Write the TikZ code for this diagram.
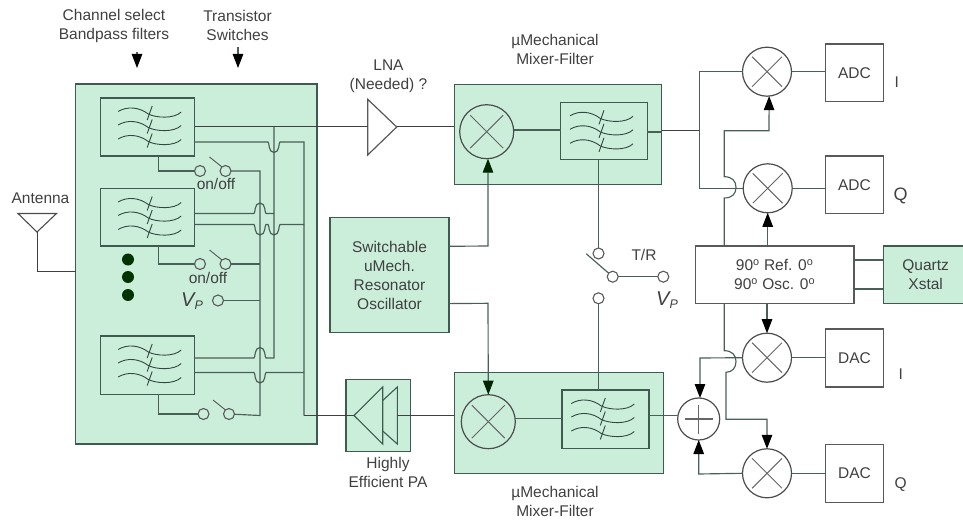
\documentclass[tikz,border=0pt]{standalone}
\usepackage{fontspec}
\setmainfont{Liberation Sans}
\usetikzlibrary{arrows.meta,calc}
\definecolor{pale}{HTML}{CBEEDB}
\definecolor{edge}{HTML}{3F5A4E}
\definecolor{wire}{HTML}{4A5F55}
\definecolor{ink}{HTML}{404040}
\tikzset{
  x=1pt,y=-1pt,
  wireline/.style={draw=wire,line width=1.15pt},
  thinwire/.style={draw=black!75,line width=1pt},
  tipped/.style={wireline,-{Triangle[length=14pt,width=10.5pt,fill=#1,color=#1]}},
  tipped/.default=black,
  greenbox/.style={draw=edge,line width=1.3pt,fill=pale,inner sep=0pt,outer sep=0pt,rectangle},
  whitebox/.style={draw=black!65,line width=1.2pt,fill=white,inner sep=0pt,outer sep=0pt,rectangle},
  mixcircle/.style={draw=black!70,line width=1.2pt,circle,inner sep=0pt,outer sep=0pt},
  contact/.style={draw=black!65,line width=1.1pt,circle,inner sep=0pt,outer sep=0pt,minimum size=11pt},
  lbl/.style={inner sep=0pt,text=ink,align=center,font=\fontsize{15.5}{19}\selectfont},
  dotmark/.style={circle,fill=black!80!green,inner sep=0pt,minimum size=12pt},
  glyph/.style={draw=edge!80!black,line width=0.9pt}
}
% name, x1, y1, x2, y2, style, text
\newcommand\boxat[7]{\node[#6,minimum width={#4-#2},minimum height={#5-#3}] (#1) at ({(#2+#4)/2},{(#3+#5)/2}) {#7};}
% filter glyph: box name, x offset
\newcommand\filterglyph[2]{%
  \begin{scope}[shift={(#1.north west)},xshift=#2]
    \foreach \dy in {0,13.5,27.5}{
      \draw[glyph] (0,13.5+\dy) .. controls (9,8+\dy) and (21,9+\dy) .. (30,16+\dy)
                   .. controls (38,20+\dy) and (56,21+\dy) .. (63,14+\dy);
      \draw[glyph] (29,22+\dy) -- (34,8+\dy);
    }
  \end{scope}}
% mixer: name, x, y, radius
\newcommand\mixerat[4]{%
  \node[mixcircle,minimum size={2*#4}] (#1) at (#2,#3) {};
  \draw[draw=black!60,line width=1pt] ([shift={(-0.61*#4,-0.61*#4)}]#1.center) -- ([shift={(0.61*#4,0.61*#4)}]#1.center);
  \draw[draw=black!60,line width=1pt] ([shift={(-0.61*#4,0.61*#4)}]#1.center) -- ([shift={(0.61*#4,-0.61*#4)}]#1.center);}
\newcommand\vp{{\fontsize{20}{20}\selectfont\itshape V}\raisebox{-3pt}{\fontsize{12.5}{12}\selectfont\itshape P}}
\begin{document}
\begin{tikzpicture}
\useasboundingbox (0,0) rectangle (963,521);
% --- containers
\boxat{bank}{75.5}{84}{317}{444}{greenbox}{}
\boxat{f1}{100.5}{98}{194.5}{156}{greenbox}{}
\boxat{f2}{100.5}{188.5}{194.5}{246}{greenbox}{}
\boxat{f3}{100.5}{336}{194.5}{394.5}{greenbox}{}
\boxat{mixtop}{454.3}{84.3}{661.7}{184.3}{greenbox}{}
\boxat{mixbot}{454.3}{372.3}{663.3}{473.3}{greenbox}{}
\boxat{ftop}{560.7}{102.3}{647.3}{159.3}{greenbox}{}
\boxat{fbot}{562}{390}{649}{448.3}{greenbox}{}
\boxat{osc}{330}{217.7}{449}{332.3}{greenbox,lbl}{Switchable\\uMech.\\Resonator\\Oscillator}
\boxat{pa}{346}{379.3}{410.7}{451.7}{greenbox}{}
\boxat{adc1}{825.3}{44}{883.7}{101.7}{whitebox,lbl}{ADC}
\boxat{adc2}{825.3}{156}{883.7}{213.7}{whitebox,lbl}{ADC}
\boxat{dac1}{825.3}{329}{883.7}{387}{whitebox,lbl}{DAC}
\boxat{dac2}{825.3}{444.3}{883.7}{502.3}{whitebox,lbl}{DAC}
\boxat{ref}{695.3}{246}{854}{303.3}{whitebox,lbl}{90\textsuperscript{o} Ref. 0\textsuperscript{o}\\90\textsuperscript{o} Osc. 0\textsuperscript{o}}
\boxat{xtal}{883.3}{246}{968}{303.3}{greenbox,lbl}{Quartz\\Xstal}
\filterglyph{f1}{17.7}
\filterglyph{f2}{17.7}
\filterglyph{f3}{17.7}
\filterglyph{ftop}{9.3}
\filterglyph{fbot}{9.3}
\mixerat{mxa}{486.7}{131.7}{27}
\mixerat{mxb}{488.3}{421.7}{27}
\mixerat{m1}{767}{71.7}{24.5}
\mixerat{m2}{767.7}{188.3}{24.5}
\mixerat{m3}{767}{357.7}{24.5}
\mixerat{m4}{767}{473.3}{24.5}
\node[mixcircle,minimum size=42pt] (sum) at (698.7,419) {};
\draw[draw=black!60,line width=1.2pt] ([shift={(-14,0)}]sum.center) -- ([shift={(14,0)}]sum.center);
\draw[draw=black!60,line width=1.2pt] ([shift={(0,-14.5)}]sum.center) -- ([shift={(0,14.5)}]sum.center);
% --- switch contacts
\node[contact] (s1a) at (200,171) {};
\node[contact] (s1b) at (225.5,171) {};
\node[contact] (s2a) at (200,264) {};
\node[contact] (s2b) at (225.5,264) {};
\node[contact] (s3a) at (203.5,414) {};
\node[contact] (s3b) at (229,414) {};
\node[contact] (vpc) at (218,300.5) {};
\node[contact] (tr1) at (598.5,253.5) {};
\node[contact] (tr2) at (612.7,276.7) {};
\node[contact] (tr3) at (663.3,276.7) {};
\node[contact] (tr4) at (598.5,298.3) {};
\foreach \n in {s1b,s2b,s3b}{
  \draw[draw=black!65,line width=0.9pt] ([shift={(-16,-14)}]\n.center) -- ([shift={(-3.5,-4)}]\n.center);
}
\draw[wireline] ([shift={(-26.5,-23)}]tr2.center) -- (tr2);
% --- dots
\node[dotmark] (d1) at (128,259.5) {};
\node[dotmark] (d2) at (128,277) {};
\node[dotmark] (d3) at (128,295) {};
% --- antenna
\coordinate (anta) at (18,213.5);
\coordinate (antb) at (56.5,213.5);
\coordinate (antc) at (37,232);
\coordinate (antd) at (37,271);
\draw[draw=black!70,line width=1.1pt] (anta) -- (antb) -- (antc) -- cycle;
\draw[thinwire] (antc) -- (antd) -- (bank.west |- antd);
% --- wiring inside bank
\coordinate (busa) at (260,0);
\coordinate (busb) at (274,0);
\coordinate (busc) at (304,0);
\draw[wireline] ([shift={(11,0)}]f1.south) -- ++(0,15) -- (s1a);
\draw[wireline] ([shift={(11,0)}]f2.south) -- ++(0,18) -- (s2a);
\draw[wireline] ([shift={(11,0)}]f3.south) -- ++(0,19.5) -- (s3a);
% bus a: collects the switches
\draw[wireline] (s1b) -- (busa |- s1b) -- (260,415.5) -- (s3b);
\draw[wireline] (s2b) -- (busa |- s2b);
\draw[wireline] (vpc) -- (busa |- vpc);
% bus b: first output of each filter
\draw[wireline] (busb |- f1.east) -- (274,358) -- (266,358)
   .. controls (264.5,358) and (266,347.5) .. (260,347.5)
   .. controls (254,347.5) and (255.5,358) .. (254,358) -- ([shift={(0,-7.25)}]f3.east);
\draw[wireline] (274,213.5) -- (266,213.5)
   .. controls (264.5,213.5) and (266,203) .. (260,203)
   .. controls (254,203) and (255.5,213.5) .. (254,213.5) -- ([shift={(0,-3.75)}]f2.east);
% bus c: second output of each filter
\draw[wireline] ([shift={(0,15)}]f1.east) -- (268,142)
   .. controls (269.5,142) and (268,152.5) .. (274,152.5)
   .. controls (280,152.5) and (278.5,142) .. (280,142) -- (304,142) -- (304,415.5);
\draw[wireline] ([shift={(0,7.25)}]f2.east) -- (254,224.5)
   .. controls (255.5,224.5) and (254,235) .. (260,235)
   .. controls (266,235) and (264.5,224.5) .. (266,224.5) -- (268,224.5)
   .. controls (269.5,224.5) and (268,235) .. (274,235)
   .. controls (280,235) and (278.5,224.5) .. (280,224.5) -- (304,224.5);
\draw[wireline] ([shift={(0,7.25)}]f3.east) -- (254,372.5)
   .. controls (255.5,372.5) and (254,383) .. (260,383)
   .. controls (266,383) and (264.5,372.5) .. (266,372.5) -- (304,372.5);
% --- LNA and PA
\coordinate (lnaa) at (367.7,99.3);
\coordinate (lnab) at (367.7,155);
\coordinate (lnac) at (396.7,127);
\draw[draw=black!65,line width=1.2pt,fill=white] (lnaa) -- (lnab) -- (lnac) -- cycle;
\draw[thinwire] (f1.east) -- (lnaa |- f1.east);
\draw[thinwire] (lnac) -- (mixtop.west |- lnac);
\coordinate (paa) at (354,415.5);
\coordinate (pab) at (382.7,387);
\coordinate (pac) at (382.7,444);
\coordinate (pad) at (397.3,387);
\coordinate (pae) at (397.3,444);
\draw[draw=edge,line width=1.1pt] (pab) -- (paa) -- (pac) -- cycle;
\draw[draw=edge,line width=1.1pt] (382.7,400.5) -- (pad) -- (pae) -- (382.7,431);
\draw[thinwire] (304,415.5) -- (paa);
\draw[thinwire] (397.3,415.5) -- (mixbot.west |- 0,415.5);
% --- mixer-filter links
\draw[wireline] (mxa.east |- 0,130) -- (ftop.west |- 0,130);
\draw[wireline] (mxb.east |- 0,418.3) -- (fbot.west |- 0,418.3);
\draw[wireline] ([shift={(-5.5,0)}]ftop.south) -- (tr1);
\draw[wireline] (tr4) -- (fbot.north -| tr4);
\draw[wireline] (tr2) -- (tr3);
% --- oscillator
\draw[tipped={black!85!green}] ([shift={(0,-28.7)}]osc.east) -- (488,246) -- (mxa.south -| 488,0);
\draw[tipped={black!85!green}] ([shift={(0,28.6)}]osc.east) -- (488,303.3) -- (mxb.north);
% --- right side, receive
\draw[wireline] (ftop.east |- 0,132) -- (661.7,132);
\draw[thinwire] (661.7,131) -- (699.3,131);
\draw[wireline] (m1.west) -- (699.3,71.7) -- (699.3,188.3) -- (m2.west);
\draw[wireline] (m1.east) -- (adc1.west |- m1.east);
\draw[wireline] (m2.east) -- (adc2.west |- m2.east);
\draw[wireline,tipped=black] (724.3,246) -- (724.3,198)
   .. controls (732,198) and (736,194) .. (736,187.3)
   .. controls (736,181) and (732,176.7) .. (724.3,176.7)
   -- (724.3,130.7) -- (769,130.7) -- (m1.-85);
\draw[tipped=black] (ref.north -| m2) -- (m2.south);
\draw[wireline] (ref.east |- 0,260) -- (xtal.west |- 0,260);
\draw[wireline] (ref.east |- 0,289) -- (xtal.west |- 0,289);
% --- right side, transmit
\draw[tipped=black] (ref.south -| m3) -- (m3.north);
\draw[tipped=black] (724.3,303.3) -- (724.3,350.7)
   .. controls (732,350.7) and (736,355) .. (736,361.5)
   .. controls (736,368) and (732,372.3) .. (726,372.3)
   -- (726,419.3) -- (767,419.3) -- (m4.north);
\draw[tipped=black] (m3.west) -- (700,358) -- (sum.north -| 700,0);
\draw[tipped=black] (m4.west) -- (698.7,474) -- (sum.south);
\draw[wireline] (m3.east) -- (dac1.west |- m3.east);
\draw[wireline] (m4.east) -- (dac2.west |- m4.east);
\draw[wireline] (fbot.east |- 0,415.7) -- (sum.west |- 0,415.7);
% --- labels
\node[lbl] (t1) at (114,25.5) {Channel select\\Bandpass filters};
\node[lbl] (t2) at (237.5,25.5) {Transistor\\Switches};
\coordinate (ar1a) at (137,52);
\coordinate (ar1b) at (137,68);
\coordinate (ar2a) at (238,47);
\coordinate (ar2b) at (238,68);
\draw[tipped=black] (ar1a) -- (ar1b);
\draw[tipped=black] (ar2a) -- (ar2b);
\node[lbl] (t3) at (40.5,198) {Antenna};
\node[lbl] (t4) at (388.5,76) {LNA\\(Needed) ?};
\node[lbl] (t5) at (555,49.5) {µMechanical\\Mixer-Filter};
\node[lbl] (t6) at (555,501.5) {µMechanical\\Mixer-Filter};
\node[lbl] (t7) at (388,472.5) {Highly\\Efficient PA};
\node[lbl] (t8) at (216,184) {on/off};
\node[lbl] (t9) at (208,277.5) {on/off};
\node[lbl] (t10) at (192,301) {\vp};
\node[lbl] (t11) at (644,255) {T/R};
\node[lbl] (t12) at (667,300) {\vp};
\node[lbl] (t13) at (896.7,82) {I};
\node[lbl,font=\fontsize{18}{18}\selectfont] (t14) at (900.7,196) {Q};
\node[lbl] (t15) at (900.7,374) {I};
\node[lbl] (t16) at (900.7,485) {Q};
\end{tikzpicture}
\end{document}
